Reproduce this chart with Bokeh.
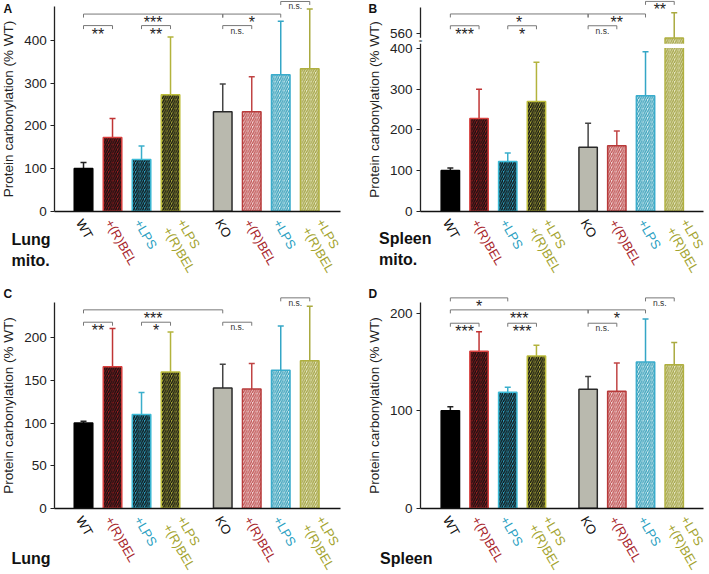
import math
from bokeh.plotting import figure
from bokeh.models import ColumnDataSource, Range1d, FixedTicker, LinearAxis, LabelSet, Label
from bokeh.core.properties import value
from bokeh.layouts import row, column
from bokeh.embed import file_html
from bokeh.resources import INLINE

FONT = "Liberation Sans"

# ---------------- data ----------------
categories = ["WT", "+(R)BEL", "+LPS", "+LPS\n+(R)BEL", "KO", "+(R)BEL", "+LPS", "+LPS\n+(R)BEL"]
group_index = [0, 0, 0, 0, 1, 1, 1, 1]

lung_mito_mean = [100, 173, 121, 273, 233, 233, 320, 334]
lung_mito_err = [14, 44, 32, 135, 65, 82, 125, 140]

spleen_mito_mean = [100, 228, 122, 270, 157, 161, 284, 550]
spleen_mito_err = [6, 72, 21, 96, 59, 36, 108, 62]

lung_mean = [100, 166, 110, 160, 141, 140, 162, 173]
lung_err = [2, 45, 26, 47, 28, 30, 52, 64]

spleen_mean = [100, 161, 119, 156, 122, 120, 150, 147]
spleen_err = [4, 20, 5, 11, 13, 29, 44, 23]

lung_mito_ticks = [0, 100, 200, 300, 400]
spleen_mito_ticks = [0, 100, 200, 300, 400, 560]
lung_ticks = [0, 50, 100, 150, 200]
spleen_ticks = [0, 100, 200]

# significance brackets: (from bar, to bar, level index, label)
lung_mito_sig = [(0, 1, 0, "**"), (2, 3, 0, "**"), (4, 5, 0, "n.s."),
                 (0, 4, 1, "***"), (4, 6, 1, "*"), (6, 7, 2, "n.s.")]
spleen_mito_sig = [(0, 1, 0, "***"), (2, 3, 0, "*"), (4, 5, 0, "n.s."),
                   (0, 4, 1, "*"), (4, 6, 1, "**"), (6, 7, 2, "**")]
lung_sig = [(0, 1, 0, "**"), (2, 3, 0, "*"), (4, 5, 0, "n.s."),
            (0, 4, 1, "***"), (6, 7, 2, "n.s.")]
spleen_sig = [(0, 1, 0, "***"), (2, 3, 0, "***"), (4, 5, 0, "n.s."),
              (0, 4, 1, "***"), (4, 6, 1, "*"), (0, 2, 2, "*"), (6, 7, 2, "n.s.")]

# ---------------- styles ----------------
fill_colors = ["#000000", "#9a1b1f", "#2b9fc0", "#a9a83a", "#b9b9ae", "#f2d8d8", "#d4eef3", "#e8e8c4"]
hatch_patterns = [" ", "/", "/", "/", " ", "/", "/", "/"]
hatch_colors = ["#000000", "#111111", "#111111", "#111111", "#000000", "#c05454", "#3aa0ba", "#a4a448"]
outline_colors = ["#000000", "#d9413f", "#3cbad6", "#bdbd3c", "#2a2a2a", "#b83a3a", "#3aaccc", "#b0b040"]
err_colors = ["#222222", "#c03434", "#3aaecb", "#b3b33c", "#444444", "#c04444", "#34a6c6", "#aaaa40"]
label_colors = ["#111111", "#a8262c", "#2b9fc2", "#a3a32e", "#111111", "#a8262c", "#2b9fc2", "#a3a32e"]

GROUP_GAP = 0.8
BAR_W = 0.64
LABEL_ANGLE = -math.pi / 3
LABEL_LINE = 16.0
xpos = [i + GROUP_GAP * g for i, g in enumerate(group_index)]

# broken axis for spleen mito (values above the break are shifted down)
BREAK_AT = 400
BREAK_RESUME = 524


def spleen_mito_display(v):
    return v if v <= BREAK_AT else BREAK_AT + (v - BREAK_RESUME)


def make_panel(letter, name, means, errs, ticks, sig, levels, cfg, disp=lambda v: v):
    W, H, L, R, B = cfg["W"], cfg["H"], cfg["L"], cfg["R"], cfg["B"]
    x0, x1 = cfg["xr"]          # data x at the axes' left / right ends
    ytop = cfg["ytop"]          # data y at the top of the figure
    ppx = (W - L - R) / (x1 - x0)
    ppy = (H - B) / ytop
    X0, X1 = x0 - L / ppx, x1 + R / ppx
    Y0 = -B / ppy

    def to_data(fx, fy):
        return x0 + (fx - L) / ppx, ytop - fy / ppy

    p = figure(width=W, height=H, x_range=Range1d(X0, X1), y_range=Range1d(Y0, ytop),
               output_backend="svg", toolbar_location=None,
               x_axis_type=None, y_axis_type=None, min_border=0)
    p.outline_line_color = None
    p.background_fill_color = "white"
    p.border_fill_color = "white"

    disp_ticks = [int(round(disp(t))) for t in ticks]
    ya = LinearAxis(ticker=FixedTicker(ticks=disp_ticks), bounds=(0, cfg["ybound"]),
                    axis_label="Protein carbonylation (% WT)", fixed_location=x0)
    ya.major_label_overrides = {dt: str(t) for dt, t in zip(disp_ticks, ticks) if dt != t}
    ya.minor_tick_line_color = None
    ya.major_tick_in = 0
    ya.major_tick_out = 4
    ya.axis_line_width = 1.3
    ya.axis_line_color = "#222222"
    ya.major_tick_line_color = "#222222"
    ya.major_tick_line_width = 1.2
    ya.major_label_text_font = FONT
    ya.major_label_text_font_size = "13.5px"
    ya.major_label_text_color = "#222222"
    ya.major_label_standoff = 4
    ya.axis_label_text_font = FONT
    ya.axis_label_text_font_size = "13.5px"
    ya.axis_label_text_font_style = "normal"
    ya.axis_label_text_color = "#222222"
    ya.axis_label_standoff = 5
    p.add_layout(ya, "left")

    xa = LinearAxis(ticker=FixedTicker(ticks=[]), fixed_location=0, bounds=(x0, x1))
    xa.axis_line_width = 1.5
    xa.axis_line_color = "#111111"
    xa.major_tick_line_color = None
    xa.minor_tick_line_color = None
    xa.major_label_text_font_size = "0px"
    p.add_layout(xa, "below")

    tops = [disp(m) for m in means]
    etops = [disp(m + e) for m, e in zip(means, errs)]
    src = ColumnDataSource(dict(x=xpos, top=tops, etop=etops, fill=fill_colors,
                                hatch=hatch_patterns, hcolor=hatch_colors,
                                outline=outline_colors, ecolor=err_colors))
    p.segment(x0="x", y0="top", x1="x", y1="etop", line_color="ecolor", line_width=1.5, source=src)
    p.scatter(x="x", y="etop", marker="dash", size=6, line_color="ecolor", line_width=1.5, source=src)
    p.vbar(x="x", top="top", width=BAR_W, bottom=0, source=src, fill_color="fill",
           line_color="outline", line_width=1.5, hatch_pattern="hatch", hatch_color="hcolor",
           hatch_scale=4.5, hatch_weight=1.3)

    # gap across bars that cross an axis break
    broken = [x for x, m in zip(xpos, means) if disp(m) != m]
    if broken:
        p.quad(left=[x - BAR_W / 2 - 0.06 for x in broken], right=[x + BAR_W / 2 + 0.06 for x in broken],
               bottom=[BREAK_AT + 1] * len(broken), top=[BREAK_AT + 12] * len(broken),
               fill_color="white", line_color=None)
        gap = Label(x=x0, y=419, text="=", text_font_size="6px", text_align="center",
                    text_baseline="middle", background_fill_color="white", text_color="#222222")
        p.add_layout(gap)

    # significance brackets
    tick = 3.5 / ppy
    xs, ys, star_x, star_y, star_t, ns_x, ns_y, ns_t = [], [], [], [], [], [], [], []
    for i, j, lev, txt in sig:
        y = levels[lev]
        xs.append([xpos[i], xpos[i], xpos[j], xpos[j]])
        ys.append([y - tick, y, y, y - tick])
        xm = (xpos[i] + xpos[j]) / 2
        if txt == "n.s.":
            ns_x.append(xm); ns_y.append(y); ns_t.append(txt)
        else:
            star_x.append(xm); star_y.append(y); star_t.append(txt)
    p.multi_line(xs=xs, ys=ys, line_color="#777777", line_width=1)
    p.add_layout(LabelSet(x="x", y="y", text="t", source=ColumnDataSource(dict(x=star_x, y=star_y, t=star_t)),
                          text_align="center", text_baseline="top", text_font=value(FONT),
                          text_font_size=value("16px"), text_color=value("#222222")))
    p.add_layout(LabelSet(x="x", y="y", text="t", source=ColumnDataSource(dict(x=ns_x, y=ns_y, t=ns_t)),
                          text_align="center", text_baseline="top", text_font=value(FONT),
                          text_font_size=value("8.5px"), text_color=value("#333333")))

    # category labels (rotated, coloured); each line placed separately
    # next-line offset (screen px, y down) perpendicular to the text direction
    nl_dx = -math.sin(-LABEL_ANGLE) * LABEL_LINE
    nl_dy = math.cos(-LABEL_ANGLE) * LABEL_LINE
    lx_, ly_, lt_, lc_ = [], [], [], []
    for x, cat, col in zip(xpos, categories, label_colors):
        lines = cat.split("\n")
        if len(lines) == 1:
            sx, sy = -4.0, 9.0
        else:
            sx, sy = 10.0, 8.5
        for k, line in enumerate(lines):
            px_, py_ = sx + k * nl_dx, sy + k * nl_dy
            lx_.append(x + px_ / ppx); ly_.append(-py_ / ppy)
            lt_.append(line); lc_.append(col)
    p.add_layout(LabelSet(x="x", y="y", text="t", text_color="c",
                          source=ColumnDataSource(dict(x=lx_, y=ly_, t=lt_, c=lc_)),
                          angle=LABEL_ANGLE, text_align="left", text_baseline="middle",
                          text_font=value(FONT), text_font_size=value("13px")))

    # panel letter and panel name
    lx, ly = to_data(cfg["letter_xy"][0], cfg["letter_xy"][1])
    p.add_layout(Label(x=lx, y=ly, text=letter, text_font=FONT, text_font_size="12px",
                       text_font_style="bold", text_align="left", text_baseline="top", text_color="#111111"))
    nx, ny = to_data(cfg["name_xy"][0], cfg["name_xy"][1])
    p.add_layout(Label(x=nx, y=ny, text=name, text_font=FONT, text_font_size="16px",
                       text_font_style="bold", text_align="left", text_baseline="top",
                       text_line_height=1.25, text_color="#111111"))
    return p


cfgA = dict(W=350, H=285, L=54.3, R=10, B=74.3, xr=(-0.99, 8.86), ytop=493.8, ybound=479,
            letter_xy=(3, 1.3), name_xy=(11, 230))
cfgB = dict(W=359, H=285, L=70, R=6, B=74.3, xr=(-1.04, 8.82), ytop=518.1, ybound=500,
            letter_xy=(18, 1.3), name_xy=(28.5, 229))
cfgC = dict(W=350, H=289, L=54.3, R=10, B=66.3, xr=(-0.99, 8.86), ytop=261.5, ybound=242,
            letter_xy=(3, 1.3), name_xy=(11, 264))
cfgD = dict(W=359, H=289, L=70, R=6, B=66.3, xr=(-1.04, 8.82), ytop=228.4, ybound=211,
            letter_xy=(18, 1.3), name_xy=(29.5, 264))

pA = make_panel("A", "Lung\nmito.", lung_mito_mean, lung_mito_err, lung_mito_ticks,
                lung_mito_sig, [435, 462, 491.5], cfgA)
pB = make_panel("B", "Spleen\nmito.", spleen_mito_mean, spleen_mito_err, spleen_mito_ticks,
                spleen_mito_sig, [456, 485, 516], cfgB, disp=spleen_mito_display)
pC = make_panel("C", "Lung", lung_mean, lung_err, lung_ticks,
                lung_sig, [218.4, 232.9, 247], cfgC)
pD = make_panel("D", "Spleen", spleen_mean, spleen_err, spleen_ticks,
                spleen_sig, [189.7, 203.4, 215.7], cfgD)

layout = column(row(pA, pB), row(pC, pD))
open("out.html", "w").write(file_html(layout, INLINE, "Protein carbonylation"))
